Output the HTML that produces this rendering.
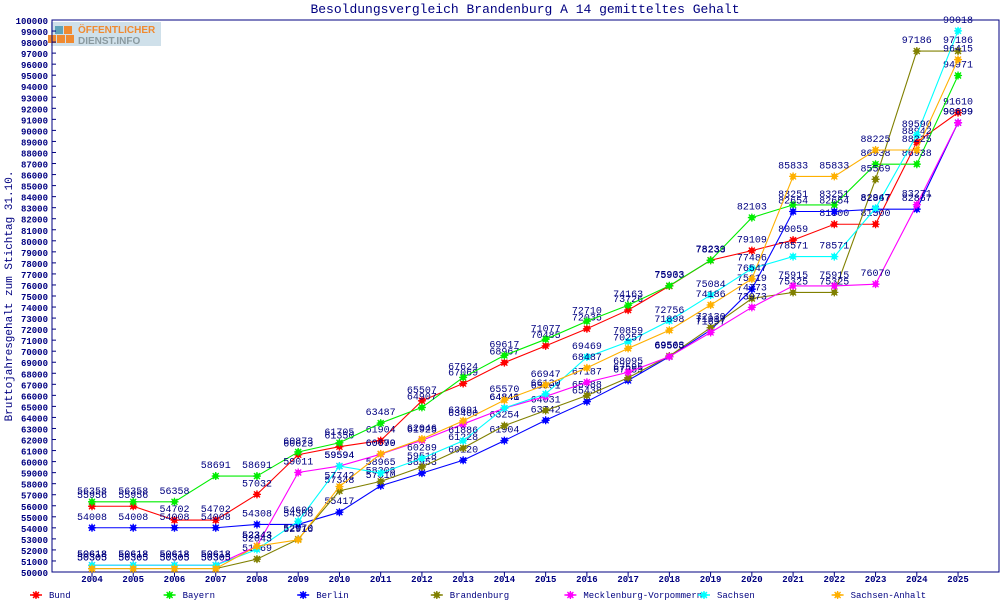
<!DOCTYPE html>
<html><head><meta charset="utf-8">
<style>
body{margin:0;background:#fff;width:1000px;height:600px;overflow:hidden;font-family:"Liberation Mono",monospace;}
svg text{font-family:"Liberation Mono",monospace;}
</style></head>
<body>
<svg id="chart" width="1000" height="600">
<text x="525" y="13" text-anchor="middle" font-size="13" fill="#000080">Besoldungsvergleich Brandenburg A 14 gemitteltes Gehalt</text>
<text transform="translate(12,296) rotate(-90)" text-anchor="middle" font-size="11" fill="#000080">Bruttojahresgehalt zum Stichtag 31.10.</text>
<g>
<rect x="51" y="22" width="110" height="24" fill="#cfe0ea"/>
<rect x="55" y="26" width="8" height="8" fill="#5fa3b8"/><rect x="64" y="26" width="8" height="8" fill="#f08a30"/>
<rect x="48" y="35" width="8" height="8" fill="#f08a30"/><rect x="57" y="35" width="8" height="8" fill="#f08a30"/><rect x="66" y="35" width="8" height="8" fill="#f08a30"/>
<text x="78" y="33" font-size="10" font-weight="bold" fill="#f08a30" style="font-family:'Liberation Sans',sans-serif">ÖFFENTLICHER</text>
<text x="78" y="44" font-size="10" font-weight="bold" fill="#8a9aa0" style="font-family:'Liberation Sans',sans-serif">DIENST.INFO</text>
</g>
<g id="axes"></g>
<g id="series"></g>
<g id="legend"></g>
</svg>
<script>
const years=[2004,2005,2006,2007,2008,2009,2010,2011,2012,2013,2014,2015,2016,2017,2018,2019,2020,2021,2022,2023,2024,2025];
const bund=[55956,55956,54702,54702,57032,60623,61350,61904,65507,67069,68967,70485,72035,73726,75903,78239,79109,80059,81500,81500,88942,91610];
const bayern=[56358,56358,56358,58691,58691,60873,61705,63487,64907,67624,69617,71077,72710,74163,75933,78233,82103,83251,83251,86938,86938,94971];
const berlin=[54008,54008,54008,54008,54308,54308,55417,57810,58953,60120,61904,63742,65438,67355,69505,71917,75619,82654,82654,82867,82867,90699];
const brandenburg=[50305,50305,50305,50305,51169,52970,57348,58208,59518,61228,63254,64631,65988,67595,69563,72130,74773,75325,75325,85569,97186,97186];
const mv=[50618,50618,50618,50618,52343,59011,59594,60670,61925,63400,64841,65901,67187,68095,69505,71697,73973,75915,75915,76070,83271,90699];
const sachsen=[50618,50618,50618,50618,52043,54600,59594,58965,60289,61886,64848,66130,69469,70859,72756,75084,77486,78571,78571,82947,89590,99018];
const anhalt=[50305,50305,50305,50305,52343,52916,57742,60699,62046,63691,65570,66947,68487,70257,71898,74186,76547,85833,85833,88225,88225,96415];
const seriesNames=["Bund","Bayern","Berlin","Brandenburg","Mecklenburg-Vorpommern","Sachsen","Sachsen-Anhalt"];
const seriesData=[bund,bayern,berlin,brandenburg,mv,sachsen,anhalt];
const colors=["#ff0000","#00ee00","#0000ff","#808000","#ff00ff","#00ffff","#ffb000"];
const yTicks=[];for(let v=50000;v<=100000;v+=1000)yTicks.push(v);

const NS="http://www.w3.org/2000/svg";
const X0=92,XS=41.24,Y0=572,YS=11.04;
const xs=i=>X0+i*XS, ys=v=>Y0-(v-50000)/1000*YS;
function mk(t,a,p){const e=document.createElementNS(NS,t);for(const k in a)e.setAttribute(k,a[k]);p.appendChild(e);return e;}
const ax=document.getElementById('axes');
const frame=mk('path',{d:`M52 20 H999 V572 H52 Z`,fill:'none',stroke:'#000080','stroke-width':1},ax);


yTicks.forEach(v=>{
  const y=ys(v);
  mk('line',{x1:52,x2:56,y1:y,y2:y,stroke:'#000080'},ax);
  const t=mk('text',{x:48,y:y+4,'text-anchor':'end','font-size':9,'font-weight':'bold',fill:'#000080'},ax);
  t.textContent=v;
  
  
});
years.forEach((yr,i)=>{
  const x=xs(i);
  mk('line',{x1:x,x2:x,y1:572,y2:577,stroke:'#000080'},ax);
  const t=mk('text',{x:x,y:582,'text-anchor':'middle','font-size':9,'font-weight':'bold',fill:'#000080'},ax);
  t.textContent=yr;
  
  
});
const sg=document.getElementById('series');
function star(g,x,y,c){
  mk('circle',{cx:x,cy:y,r:2.8,fill:c},g);
  mk('path',{d:`M${x-4} ${y}H${x+4}M${x} ${y-4}V${y+4}M${x-3} ${y-3}L${x+3} ${y+3}M${x-3} ${y+3}L${x+3} ${y-3}`,stroke:c,'stroke-width':1.3},g);
}
seriesData.forEach((d,s)=>{
  const g=mk('g',{},sg);
  
  
  const line=mk('polyline',{points:d.map((v,i)=>xs(i)+','+ys(v)).join(' '),fill:'none',stroke:colors[s],'stroke-width':1.1},g);
  
  
  d.forEach((v,i)=>{star(g,xs(i),ys(v),colors[s]);});
  d.forEach((v,i)=>{
    const t=mk('text',{x:xs(i),y:ys(v)-8,'text-anchor':'middle','font-size':10,fill:'#000080'},g);
    t.textContent=v;
    
    
  });
});
const lg=document.getElementById('legend');
seriesNames.forEach((n,s)=>{
  const x=36+s*133.6;
  const g=mk('g',{},lg);
  
  
  mk('line',{x1:x-6,x2:x+6,y1:595,y2:595,stroke:colors[s],'stroke-width':1.5},g);
  star(g,x,595,colors[s]);
  const t=mk('text',{x:x+13,y:598,'font-size':9,fill:'#000080'},g);
  t.textContent=n;
});
</script>
</body></html>
